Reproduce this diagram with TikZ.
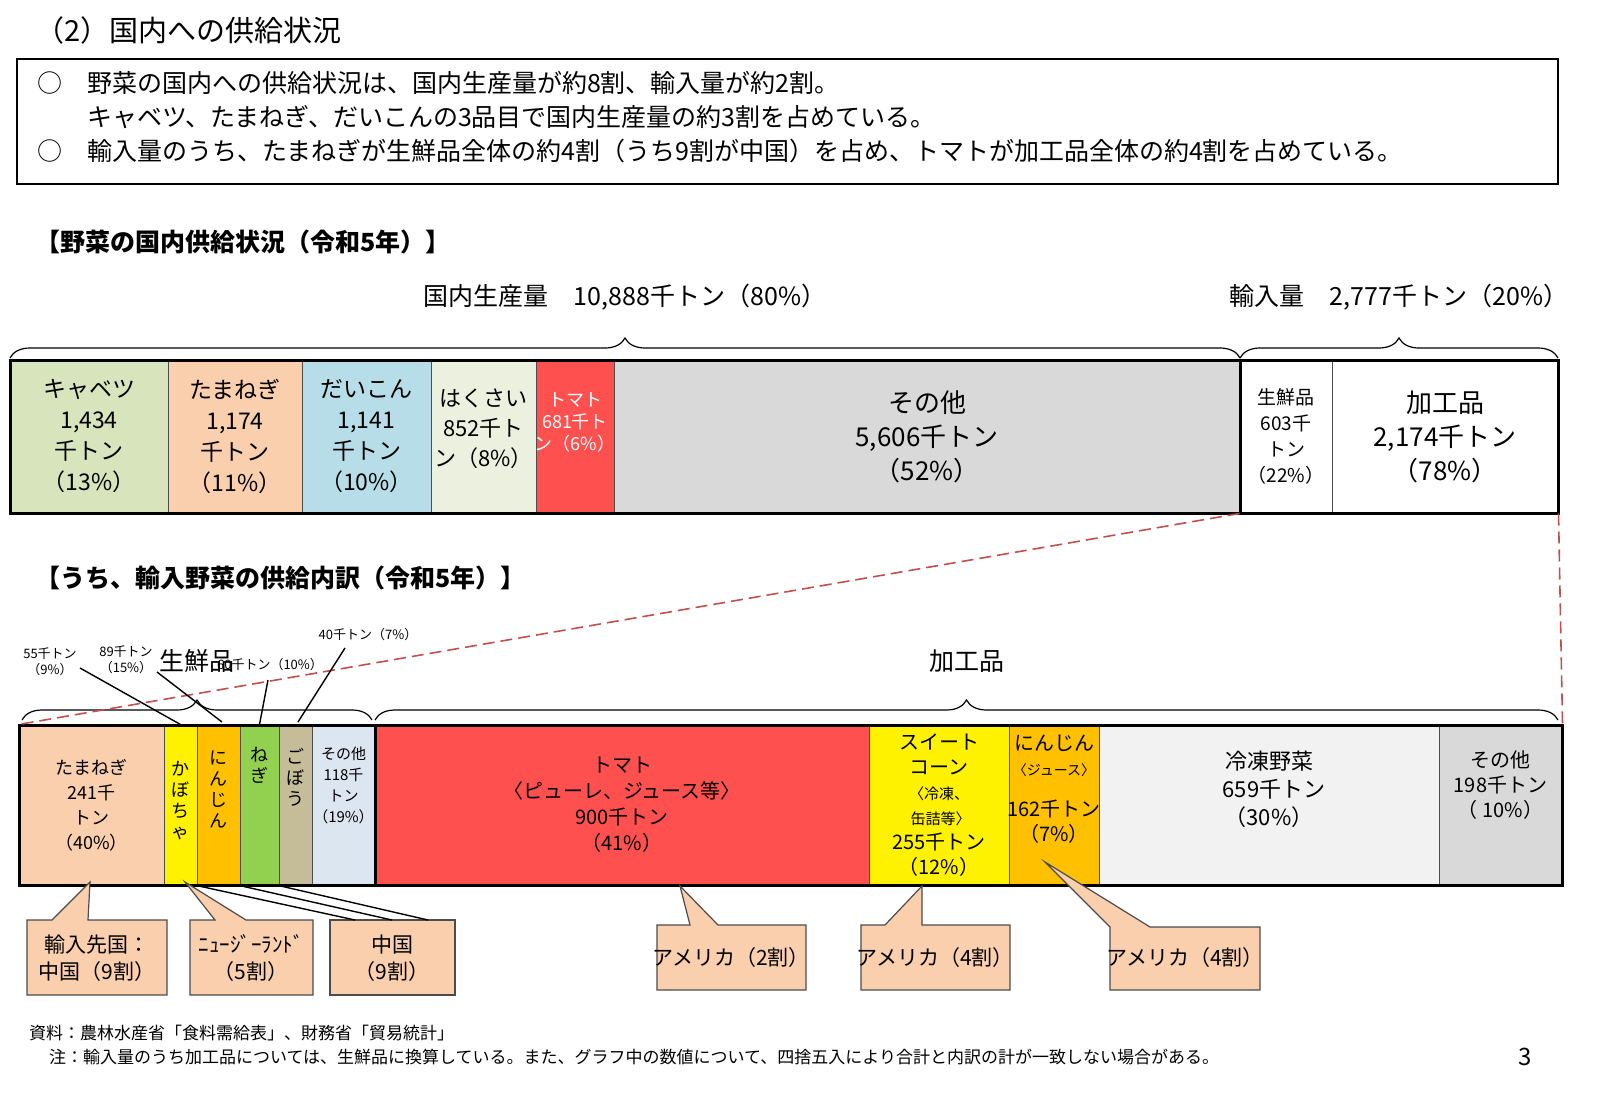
\documentclass[tikz,border=0pt]{standalone}
\usepackage{fontspec}
\setmainfont{Noto Sans CJK JP}
\usetikzlibrary{fit,decorations.pathreplacing}
\definecolor{cabbage}{HTML}{D8E4BC}
\definecolor{peach}{HTML}{F9CFAE}
\definecolor{daikon}{HTML}{B7DEE8}
\definecolor{hakusai}{HTML}{EBF1DE}
\definecolor{tomato}{HTML}{FF5050}
\definecolor{lgray}{HTML}{D9D9D9}
\definecolor{carrot}{HTML}{FFC000}
\definecolor{negi}{HTML}{92D050}
\definecolor{gobou}{HTML}{C4BD97}
\definecolor{pale}{HTML}{DCE6F1}
\definecolor{frozen}{HTML}{F2F2F2}
\definecolor{dred}{HTML}{C0504D}
\tikzset{
  seg/.style={draw=black!70, line width=0.5pt, inner sep=0pt},
  lbl/.style={align=center, font=\fontsize{10.5}{13.5}\selectfont},
  tiny/.style={align=center, font=\fontsize{6.5}{8}\selectfont},
  callout/.style={draw=black!70, fill=peach, line width=0.6pt},
  brc/.style={decorate, decoration={brace, amplitude=10pt}, line width=0.6pt},
  lead/.style={line width=0.7pt}
}
\begin{document}
\begin{tikzpicture}[x=0.5pt, y=-0.5pt]

% Title and summary
\node[anchor=west, font=\fontsize{14.5}{17}\selectfont] (ttl) at (28,30) {（2）国内への供給状況};
\node[draw, line width=1pt, minimum width=770.5pt, minimum height=62.5pt, anchor=north west] (sum) at (16,58) {};
\node[anchor=west, font=\fontsize{12.5}{15}\selectfont] (s1) at (30,83) {○\quad 野菜の国内への供給状況は、国内生産量が約8割、輸入量が約2割。};
\node[anchor=west, font=\fontsize{12.5}{15}\selectfont] (s2) at (80,117) {キャベツ、たまねぎ、だいこんの3品目で国内生産量の約3割を占めている。};
\node[anchor=west, font=\fontsize{12.5}{15}\selectfont] (s3) at (30,151) {○\quad 輸入量のうち、たまねぎが生鮮品全体の約4割（うち9割が中国）を占め、トマトが加工品全体の約4割を占めている。};

% Upper chart
\node[anchor=west, font=\bfseries\fontsize{12.5}{15}\selectfont] (h1) at (28,242) {【野菜の国内供給状況（令和5年）】};
\draw[brc] (10,358) -- (1240,358) node[midway, above=20pt, font=\fontsize{12.5}{15}\selectfont] (dom) {国内生産量\quad 10,888千トン（80\%）};
\draw[brc] (1240,358) -- (1558,358) node[midway, above=20pt, font=\fontsize{12.5}{15}\selectfont] (imp) {輸入量\quad 2,777千トン（20\%）};

\node[seg, fill=cabbage, fit={(10,360)(168,513)}] (u1) {};
\node[seg, fill=peach, fit={(168,360)(302,513)}] (u2) {};
\node[seg, fill=daikon, fit={(302,360)(431,513)}] (u3) {};
\node[seg, fill=hakusai, fit={(431,360)(536,513)}] (u4) {};
\node[seg, fill=tomato, fit={(536,360)(614,513)}] (u5) {};
\node[seg, fill=lgray, fit={(614,360)(1240,513)}] (u6) {};
\node[seg, fill=white, fit={(1240,360)(1332,513)}] (u7) {};
\node[seg, fill=white, fit={(1332,360)(1558,513)}] (u8) {};
\draw[line width=1.5pt] (10,360) rectangle (1240,513);
\draw[line width=1.5pt] (1240,360) rectangle (1558,513);

\node[lbl, font=\fontsize{11.5}{15.5}\selectfont] at (u1.center) {キャベツ\\1,434\\千トン\\（13\%）};
\node[lbl, font=\fontsize{11.5}{15.5}\selectfont] at (u2.center) {たまねぎ\\1,174\\千トン\\（11\%）};
\node[lbl, font=\fontsize{11.5}{15.5}\selectfont] at (u3.center) {だいこん\\1,141\\千トン\\（10\%）};
\node[lbl, font=\fontsize{11}{15}\selectfont, yshift=4pt] at (u4.center) {はくさい\\852千ト\\ン（8\%）};
\node[lbl, font=\fontsize{9}{11}\selectfont, text=white, yshift=7pt] at (u5.center) {トマト\\681千ト\\ン（6\%）};
\node[lbl, font=\fontsize{13}{17}\selectfont] at (u6.center) {その他\\5,606千トン\\（52\%）};
\node[lbl, font=\fontsize{9.5}{13}\selectfont] at (u7.center) {生鮮品\\603千\\トン\\（22\%）};
\node[lbl, font=\fontsize{13}{17}\selectfont] at (u8.center) {加工品\\2,174千トン\\（78\%）};

% Lower chart
\node[anchor=west, font=\bfseries\fontsize{12.5}{15}\selectfont] (h2) at (28,578) {【うち、輸入野菜の供給内訳（令和5年）】};
\draw[brc] (22,720) -- (372,720) node[midway, above=20pt, font=\fontsize{12.5}{15}\selectfont] (fresh) {生鮮品};
\draw[brc] (375,720) -- (1558,720) node[midway, above=20pt, font=\fontsize{12.5}{15}\selectfont] (proc) {加工品};

\node[seg, fill=peach, fit={(19,725)(164,885)}] (b1) {};
\node[seg, fill=yellow, fit={(164,725)(197,885)}] (b2) {};
\node[seg, fill=carrot, fit={(197,725)(240,885)}] (b3) {};
\node[seg, fill=negi, fit={(240,725)(279,885)}] (b4) {};
\node[seg, fill=gobou, fit={(279,725)(312,885)}] (b5) {};
\node[seg, fill=pale, fit={(312,725)(375,885)}] (b6) {};
\node[seg, fill=tomato, fit={(375,725)(869,885)}] (b7) {};
\node[seg, fill=yellow, fit={(869,725)(1009,885)}] (b8) {};
\node[seg, fill=carrot, fit={(1009,725)(1099,885)}] (b9) {};
\node[seg, fill=frozen, fit={(1099,725)(1439,885)}] (b10) {};
\node[seg, fill=lgray, fit={(1439,725)(1562,885)}] (b11) {};
\draw[line width=1.5pt] (19,725) rectangle (1562,885);
\draw[line width=1.5pt] (375,725) -- (375,885);

\node[lbl, font=\fontsize{9}{12.5}\selectfont] at (b1.center) {たまねぎ\\241千\\トン\\（40\%）};
\node[lbl, font=\fontsize{9}{10.5}\selectfont, yshift=2pt] at (b2.center) {か\\ぼ\\ち\\ゃ};
\node[lbl, font=\fontsize{9}{10.5}\selectfont, yshift=8pt] at (b3.center) {に\\ん\\じ\\ん};
\node[lbl, font=\fontsize{9}{10.5}\selectfont, yshift=20pt] at (b4.center) {ね\\ぎ};
\node[lbl, font=\fontsize{9}{10.5}\selectfont, yshift=14pt] at (b5.center) {ご\\ぼ\\う};
\node[lbl, font=\fontsize{7.5}{10.5}\selectfont, yshift=10pt] at (b6.center) {その他\\118千\\トン\\（19\%）};
\node[lbl, font=\fontsize{10}{13}\selectfont] at (b7.center) {トマト\\〈ピューレ、ジュース等〉\\900千トン\\（41\%）};
\node[lbl, font=\fontsize{10}{12.5}\selectfont] at (b8.center) {スイート\\コーン\\{\fontsize{7.5}{10}\selectfont〈冷凍、}\\{\fontsize{7.5}{10}\selectfont\ 缶詰等〉}\\255千トン\\（12\%）};
\node[lbl, font=\fontsize{10}{12.5}\selectfont, yshift=8pt] at (b9.center) {にんじん\\{\fontsize{7}{10}\selectfont〈ジュース〉}\\[8pt]162千トン\\（7\%）};
\node[lbl, font=\fontsize{11}{14}\selectfont, yshift=8pt] at (b10.center) {冷凍野菜\\\ \ 659千トン\\（30\%）};
\node[lbl, font=\fontsize{10}{12.5}\selectfont, yshift=10pt] at (b11.center) {その他\\198千トン\\（ 10\%）};

% Dashed zoom lines
\draw[dred, dashed, line width=0.8pt, dash pattern=on 6pt off 3pt] (u7.south west) -- (b1.north west);
\draw[dred, dashed, line width=0.8pt, dash pattern=on 6pt off 3pt] (u8.south east) -- (b11.north east);

% Small quantity labels
\node[tiny] (q1) at (50,662) {55千トン\\（9\%）};
\node[tiny] (q2) at (126,660) {89千トン\\（15\%）};
\node[tiny] (q3) at (270,665) {60千トン（10\%）};
\node[tiny] (q4) at (368,635) {40千トン（7\%）};
\draw[lead] (80,668) -- (b2.north);
\draw[lead] (157,672) -- (222,722);
\draw[lead] (268,680) -- (b4.north);
\draw[lead] (345,648) -- (298,722);

% Callouts
\draw[callout] (27,920) -- (52,920) -- (90,882) -- (88,920) -- (167,920) -- (167,995) -- (27,995) -- cycle;
\node[lbl] (c1) at (97,958) {輸入先国：\\中国（9割）};
\draw[callout] (190,920) -- (215,920) -- (185,882) -- (246,920) -- (313,920) -- (313,995) -- (190,995) -- cycle;
\node[lbl] (c2) at (251,958) {ﾆｭｰｼﾞｰﾗﾝﾄﾞ\\（5割）};
\draw[callout] (330,920) rectangle (455,995);
\node[lbl] (c3) at (392,958) {中国\\（9割）};
\draw[lead] (b3.south west) -- (355,920);
\draw[lead] (b4.south west) -- (392,920);
\draw[lead] (b5.south west) -- (428,920);
\draw[callout] (657,925) -- (690,925) -- (680,886) -- (718,925) -- (806,925) -- (806,990) -- (657,990) -- cycle;
\node[lbl] (c4) at (731,958) {アメリカ（2割）};
\draw[callout] (861,925) -- (885,925) -- (922,886) -- (922,925) -- (1010,925) -- (1010,990) -- (861,990) -- cycle;
\node[lbl] (c5) at (935,958) {アメリカ（4割）};
\draw[callout] (1110,927) -- (1045,862) -- (1150,927) -- (1260,927) -- (1260,990) -- (1110,990) -- cycle;
\node[lbl] (c6) at (1185,958) {アメリカ（4割）};

% Notes
\node[anchor=west, font=\fontsize{8.5}{10}\selectfont] (n1) at (22,1033) {資料：農林水産省「食料需給表」、財務省「貿易統計」};
\node[anchor=west, font=\fontsize{8.5}{10}\selectfont] (n2) at (42,1057) {注：輸入量のうち加工品については、生鮮品に換算している。また、グラフ中の数値について、四捨五入により合計と内訳の計が一致しない場合がある。};
\node[font=\fontsize{12}{14}\selectfont] (pg) at (1525,1057) {3};

\pgfresetboundingbox
\useasboundingbox (0,0) rectangle (1600,1108);
\end{tikzpicture}
\end{document}
